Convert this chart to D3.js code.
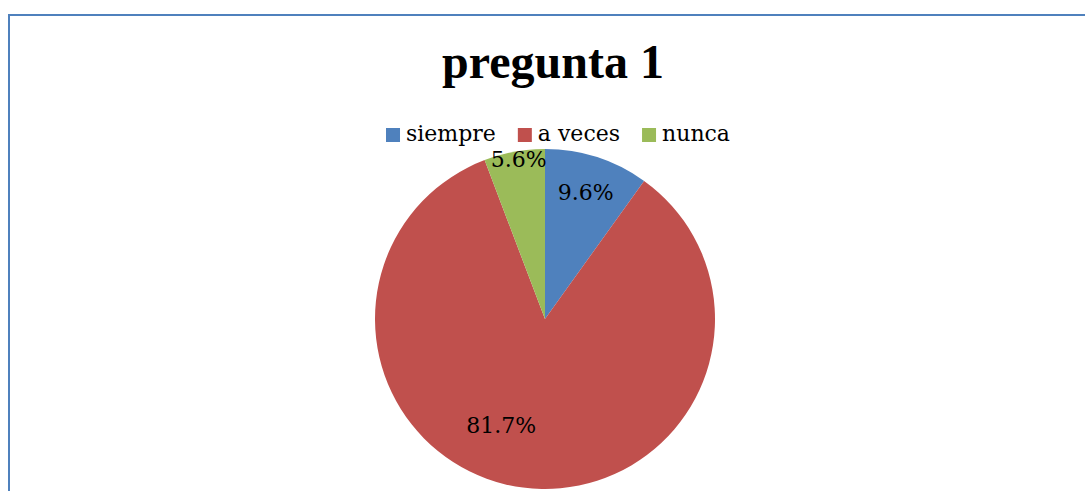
<!DOCTYPE html>
<html>
<head>
<meta charset="utf-8">
<script src="https://cdn.jsdelivr.net/npm/d3@7"></script>
<style>
  html, body { margin: 0; padding: 0; background: #fff; }
  svg { display: block; }
</style>
</head>
<body>
<div id="chart"></div>
<script>
// chart data
var title = "pregunta 1";
var categories = ["siempre", "a veces", "nunca"];
var values = [9.6, 81.7, 5.6];
var labels = ["9.6%", "81.7%", "5.6%"];

var width = 1085, height = 491;
var colors = ["#4F81BD", "#C0504D", "#9BBB59"];
var cx = 545, cy = 319, radius = 170;
// label placement per slice: fraction of radius, angle shift (deg)
var labelPos = [[0.78, 0], [0.675, 15], [0.95, 1]];

var svg = d3.select("#chart").append("svg")
  .attr("width", width)
  .attr("height", height);

// chart area frame (goes off the right and bottom edge)
svg.append("rect")
  .attr("x", 9).attr("y", 15)
  .attr("width", width + 20).attr("height", height + 20)
  .style("fill", "none")
  .style("stroke", "#4F81BD")
  .style("stroke-width", 2);

// title
svg.append("text")
  .attr("x", 553).attr("y", 78)
  .attr("text-anchor", "middle")
  .style("font-family", "'Liberation Serif', serif")
  .style("font-weight", "bold")
  .style("font-size", "48px")
  .style("fill", "#000")
  .text(title);

// legend
var legend = svg.append("g");
var item = legend.selectAll("g").data(categories).enter().append("g");
item.append("rect")
  .attr("width", 14).attr("height", 14)
  .attr("y", -13)
  .style("fill", function (d, i) { return colors[i]; });
item.append("text")
  .attr("x", 20)
  .style("font-family", "'DejaVu Serif', serif")
  .style("font-size", "22px")
  .style("fill", "#000")
  .text(function (d) { return d; });
var xoff = 0;
item.each(function () {
  var w = 20 + d3.select(this).select("text").node().getComputedTextLength();
  d3.select(this).attr("transform", "translate(" + xoff + ",0)");
  xoff += w + 22;
});
var legendW = xoff - 22;
legend.attr("transform", "translate(" + (558 - legendW / 2) + ",141)");

// pie
var pie = d3.pie().sort(null).value(function (d) { return d; });
var arcs = pie(values);
var arc = d3.arc().innerRadius(0).outerRadius(radius);

var g = svg.append("g").attr("transform", "translate(" + cx + "," + cy + ")");

g.selectAll("path.slice")
  .data(arcs)
  .enter().append("path")
  .attr("class", "slice")
  .attr("d", arc)
  .style("fill", function (d, i) { return colors[i]; });

g.selectAll("text.lbl")
  .data(arcs)
  .enter().append("text")
  .attr("class", "lbl")
  .attr("text-anchor", "middle")
  .attr("dy", "0.35em")
  .attr("x", function (d, i) {
    var a = (d.startAngle + d.endAngle) / 2 + labelPos[i][1] * Math.PI / 180;
    return radius * labelPos[i][0] * Math.sin(a);
  })
  .attr("y", function (d, i) {
    var a = (d.startAngle + d.endAngle) / 2 + labelPos[i][1] * Math.PI / 180;
    return -radius * labelPos[i][0] * Math.cos(a);
  })
  .style("font-family", "'DejaVu Serif', serif")
  .style("font-size", "22px")
  .style("fill", "#000")
  .text(function (d, i) { return labels[i]; });
</script>
</body>
</html>
